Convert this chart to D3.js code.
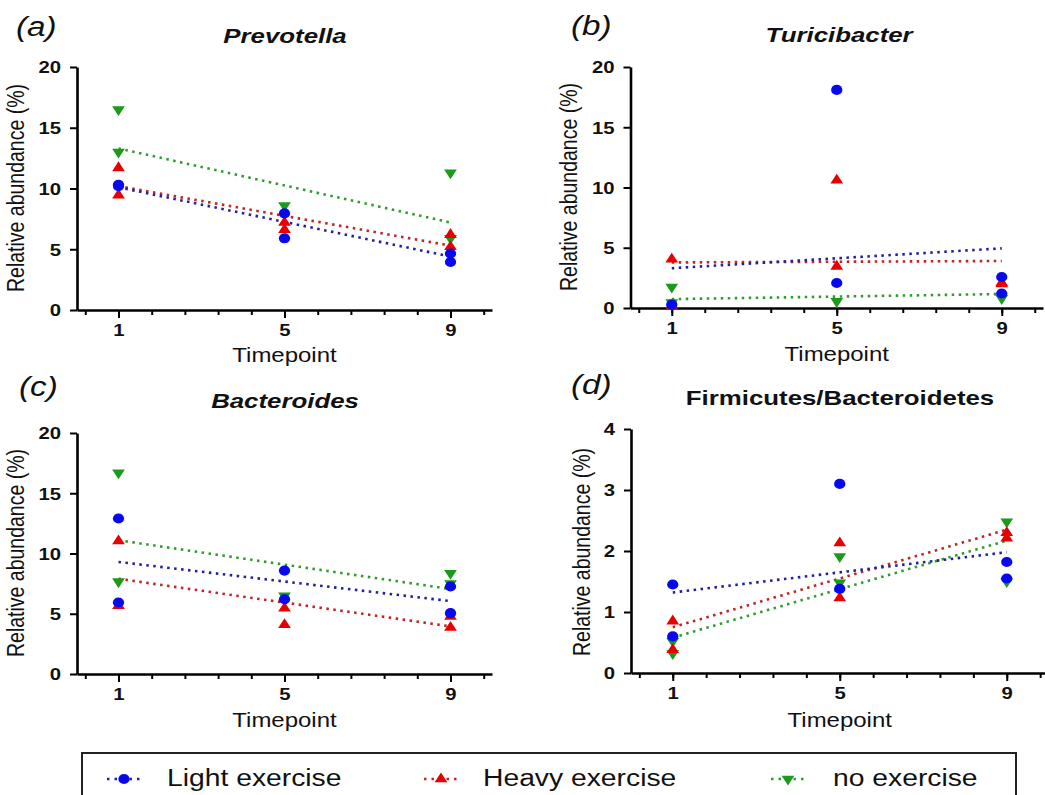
<!DOCTYPE html>
<html>
<head>
<meta charset="utf-8">
<title>Relative abundance by timepoint</title>
<script src="https://d3js.org/d3.v7.min.js"></script>
<style>
body { margin: 0; background: #fff; }
svg { font-family: "Liberation Sans", Arial, sans-serif; }
.axis path, .axis line { stroke: #000; }
.axis path { stroke-width: 2.6px; }
.axis line { stroke-width: 2px; }
.axis text { font-weight: bold; font-size: 16.5px; fill: #111; }
.trend { fill: none; stroke-width: 2.6px; stroke-dasharray: 2.5 4.5; }
</style>
</head>
<body>
<script>
// groups and colours
var groupNames = ["Light exercise", "Heavy exercise", "no exercise"];
var markerColors = ["#0808f0", "#e80000", "#1c9a1c"];
var lineColors = ["#20209a", "#c02424", "#2e9c2e"];
var timepoints = [1, 5, 9];

// points: [group, timepoint, value]  (0 light, 1 heavy, 2 none)
var prevotellaPoints = [
  [2,1,16.5],[2,1,13.0],[2,5,8.6],[2,9,11.3],[2,9,5.9],
  [1,1,11.7],[1,1,9.45],[1,5,7.2],[1,5,6.6],[1,9,6.2],[1,9,5.2],
  [0,1,10.3],[0,1,10.2],[0,5,7.95],[0,5,5.9],[0,9,4.65],[0,9,3.95]
];
var turicibacterPoints = [
  [2,1,1.74],[2,1,0.45],[2,5,0.55],[2,9,0.8],
  [1,1,4.05],[1,1,0.12],[1,5,10.6],[1,5,3.45],[1,9,2.0],[1,9,2.1],
  [0,1,0.28],[0,5,18.1],[0,5,2.07],[0,9,2.57],[0,9,1.2]
];
var bacteroidesPoints = [
  [2,1,16.7],[2,1,7.67],[2,5,6.5],[2,9,8.36],[2,9,7.5],
  [1,1,11.03],[1,1,5.66],[1,5,5.46],[1,5,4.08],[1,9,4.77],[1,9,3.86],
  [0,1,12.9],[0,1,5.93],[0,5,8.58],[0,5,6.2],[0,9,7.26],[0,9,5.05]
];
var fbPoints = [
  [2,1,0.52],[2,1,0.32],[2,5,1.91],[2,5,1.48],[2,9,2.48],[2,9,1.5],
  [1,1,0.85],[1,1,0.38],[1,5,2.13],[1,5,1.23],[1,9,2.3],[1,9,2.21],
  [0,1,1.45],[0,1,0.6],[0,5,3.1],[0,5,1.38],[0,9,1.82],[0,9,1.55]
];

// trend lines: [group, value at 1, value at 9]
var prevotellaTrend = [[2,13.3,7.2],[1,10.2,5.3],[0,10.1,4.4]];
var turicibacterTrend = [[2,0.74,1.16],[1,3.78,3.9],[0,3.3,4.95]];
var bacteroidesTrend = [[2,11.1,7.05],[1,7.9,3.95],[0,9.3,6.05]];
var fbTrend = [[2,0.58,2.17],[1,0.75,2.35],[0,1.32,1.98]];

var yTicks20 = [0, 5, 10, 15, 20];
var yTicks4 = [0, 1, 2, 3, 4];

var SX = 1.23; // horizontal stretch of the original lettering

var svg = d3.select("body").append("svg")
    .attr("width", 1045)
    .attr("height", 795);

function stext(g, x, y, str, size, weight, style, anchor) {
  return g.append("text")
      .attr("transform", "translate(" + x + "," + y + ") scale(" + SX + ",1)")
      .attr("text-anchor", anchor || "middle")
      .style("font-size", size + "px")
      .style("font-weight", weight || "normal")
      .style("font-style", style || "normal")
      .style("fill", "#111")
      .text(str);
}

var panels = [
  {tag: "a", title: "Prevotella", italic: true, points: prevotellaPoints, trend: prevotellaTrend,
   ymax: 20, yticks: yTicks20, x0: 77, x1: 492, yb: 310, yt: 67,
   tagX: 16, tagY: 36, titleX: 285, titleY: 43, ylabX: 24, ylabY: 188, xlabY: 362},
  {tag: "b", title: "Turicibacter", italic: true, points: turicibacterPoints, trend: turicibacterTrend,
   ymax: 20, yticks: yTicks20, x0: 630.5, x1: 1043, yb: 308, yt: 67,
   tagX: 571, tagY: 35, titleX: 839, titleY: 42, ylabX: 577, ylabY: 187, xlabY: 361},
  {tag: "c", title: "Bacteroides", italic: true, points: bacteroidesPoints, trend: bacteroidesTrend,
   ymax: 20, yticks: yTicks20, x0: 77, x1: 492, yb: 674, yt: 433,
   tagX: 19, tagY: 396, titleX: 285, titleY: 408, ylabX: 24, ylabY: 553, xlabY: 727},
  {tag: "d", title: "Firmicutes/Bacteroidetes", italic: false, points: fbPoints, trend: fbTrend,
   ymax: 4, yticks: yTicks4, x0: 631, x1: 1048.5, yb: 673, yt: 429,
   tagX: 571, tagY: 394, titleX: 840, titleY: 405, ylabX: 590, ylabY: 552, xlabY: 727}
];

var minorTicks = d3.range(0, 13).map(function(i) { return +(0.2 + 0.8 * i).toFixed(1); });

function marker(g) {
  return d3.symbol().type(g === 0 ? d3.symbolCircle : d3.symbolTriangle).size(g === 0 ? 80 : 56)();
}

panels.forEach(function(p) {
  var g = svg.append("g");
  var x = d3.scaleLinear().domain([0, 10]).range([p.x0, p.x1]);
  var y = d3.scaleLinear().domain([0, p.ymax]).range([p.yb, p.yt]);

  // axes
  var ax = g.append("g").attr("class", "axis").attr("transform", "translate(0," + p.yb + ")");
  ax.call(d3.axisBottom(x).tickValues(minorTicks).tickSize(5).tickSizeOuter(0).tickFormat(""));
  var axMaj = g.append("g").attr("class", "axis").attr("transform", "translate(0," + p.yb + ")")
    .call(d3.axisBottom(x).tickValues(timepoints).tickSize(8).tickSizeOuter(0).tickPadding(6));
  axMaj.select(".domain").remove();
  axMaj.selectAll("text").attr("transform", "scale(" + SX + ",1)");

  var ay = g.append("g").attr("class", "axis").attr("transform", "translate(" + p.x0 + ",0)")
    .call(d3.axisLeft(y).tickValues(p.yticks).tickSize(7).tickSizeOuter(0).tickPadding(6)
      .tickFormat(d3.format("d")));
  ay.selectAll("text").attr("transform", "scale(" + SX + ",1)").attr("dy", "0.36em");

  // labels
  stext(g, p.tagX, p.tagY, "(" + p.tag + ")", 27, "normal", "italic", "start");
  stext(g, p.titleX, p.titleY, p.title, 21, "bold", p.italic ? "italic" : "normal");
  stext(g, x(5), p.xlabY, "Timepoint", 19.5);
  g.append("text")
      .attr("transform", "translate(" + p.ylabX + "," + p.ylabY + ") rotate(-90) scale(1," + SX + ")")
      .attr("text-anchor", "middle")
      .style("font-size", "19.5px")
      .style("fill", "#111")
      .text("Relative abundance (%)");

  // trend lines
  g.selectAll("line.trend").data(p.trend).enter().append("line")
      .attr("class", "trend")
      .attr("x1", x(1)).attr("x2", x(9))
      .attr("y1", function(d) { return y(d[1]); })
      .attr("y2", function(d) { return y(d[2]); })
      .attr("stroke", function(d) { return lineColors[d[0]]; });

  // markers
  g.selectAll("path.pt").data(p.points).enter().append("path")
      .attr("class", "pt")
      .attr("d", function(d) { return marker(d[0]); })
      .attr("transform", function(d) {
        var t = "translate(" + x(d[1]) + "," + y(d[2]) + ") scale(1.12,1)";
        if (d[0] === 2) t += " rotate(180)";
        return t;
      })
      .attr("fill", function(d) { return markerColors[d[0]]; });
});

// legend
var leg = svg.append("g");
leg.append("rect")
    .attr("x", 82).attr("y", 753).attr("width", 934).attr("height", 70)
    .attr("fill", "none").attr("stroke", "#222").attr("stroke-width", 2);
var legX = [124, 441, 788];
var legTextX = [167, 483, 833];
groupNames.forEach(function(name, i) {
  leg.append("line")
      .attr("class", "trend")
      .attr("x1", legX[i] - 17).attr("x2", legX[i] + 17)
      .attr("y1", 779).attr("y2", 779)
      .attr("stroke", lineColors[i])
      .style("stroke-dasharray", "2.5 5");
  leg.append("path")
      .attr("d", marker(i))
      .attr("transform", "translate(" + legX[i] + ",779) scale(1.12,1)" + (i === 2 ? " rotate(180)" : ""))
      .attr("fill", markerColors[i]);
  stext(leg, legTextX[i], 786, name, 23, "normal", "normal", "start");
});
</script>
</body>
</html>
